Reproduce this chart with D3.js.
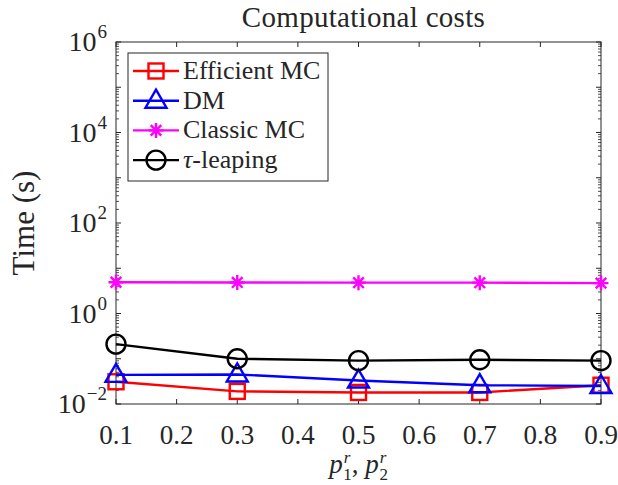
<!DOCTYPE html>
<html>
<head>
<meta charset="utf-8">
<script src="https://cdn.jsdelivr.net/npm/d3@7"></script>
<style>
body { margin: 0; background: #fff; }
text { font-family: "Liberation Serif", "DejaVu Serif", serif; fill: #262626; }
</style>
</head>
<body>
<svg width="618" height="485"></svg>
<script>
var svg = d3.select("svg");

// data
var pr = [0.1, 0.3, 0.5, 0.7, 0.9];
var efficientMC = [0.031, 0.019, 0.018, 0.018, 0.026];
var dm = [0.044, 0.045, 0.033, 0.026, 0.025];
var classicMC = [4.9, 4.85, 4.8, 4.8, 4.7];
var tauLeaping = [0.21, 0.1, 0.091, 0.095, 0.091];
var xTicks = [0.1, 0.2, 0.3, 0.4, 0.5, 0.6, 0.7, 0.8, 0.9];
var yLabelExps = [-2, 0, 2, 4, 6];

// note: "top" is taken by window.top, so use plot* names
var plotLeft = 116, plotRight = 601, plotTop = 42, plotBottom = 404;
var x = d3.scaleLinear().domain([0.1, 0.9]).range([plotLeft, plotRight]);
var y = d3.scaleLog().domain([1e-2, 1e6]).range([plotBottom, plotTop]);
var axisColor = "#262626";

//==================================================
// axes box and ticks
var g = svg.append("g");
g.append("rect")
    .attr("x", plotLeft).attr("y", plotTop)
    .attr("width", plotRight - plotLeft).attr("height", plotBottom - plotTop)
    .attr("fill", "none").attr("stroke", axisColor).attr("stroke-width", 1);

// x ticks inward, bottom and top
xTicks.forEach(function(t) {
    g.append("line").attr("x1", x(t)).attr("x2", x(t)).attr("y1", plotBottom).attr("y2", plotBottom - 5)
        .attr("stroke", axisColor);
    g.append("line").attr("x1", x(t)).attr("x2", x(t)).attr("y1", plotTop).attr("y2", plotTop + 5)
        .attr("stroke", axisColor);
    g.append("text").attr("x", x(t)).attr("y", plotBottom + 40)
        .attr("text-anchor", "middle").attr("font-size", 27)
        .text(t.toFixed(1));
});

// y ticks: majors every decade, minors between
for (var e = -2; e <= 6; e++) {
    [plotLeft, plotRight].forEach(function(px, side) {
        var dir = side == 0 ? 1 : -1;
        g.append("line").attr("x1", px).attr("x2", px + dir * 5)
            .attr("y1", y(Math.pow(10, e))).attr("y2", y(Math.pow(10, e)))
            .attr("stroke", axisColor);
        if (e < 6) {
            for (var m = 2; m <= 9; m++) {
                var v = m * Math.pow(10, e);
                g.append("line").attr("x1", px).attr("x2", px + dir * 3)
                    .attr("y1", y(v)).attr("y2", y(v))
                    .attr("stroke", axisColor).attr("stroke-width", 0.8);
            }
        }
    });
}
yLabelExps.forEach(function(e) {
    var t = g.append("text").attr("x", plotLeft - 9).attr("y", y(Math.pow(10, e)) + 9)
        .attr("text-anchor", "end").attr("font-size", 28);
    t.append("tspan").text("10");
    t.append("tspan").attr("dy", -13).attr("dx", 1).attr("font-size", 19).text(e < 0 ? "\u2212" + (-e) : e);
});

// title and labels
svg.append("text").attr("x", (plotLeft + plotRight) / 2 + 5).attr("y", 27)
    .attr("text-anchor", "middle").attr("font-size", 29).attr("letter-spacing", 0.3)
    .text("Computational costs");

svg.append("text").attr("transform", "translate(34," + ((plotTop + plotBottom) / 2) + ") rotate(-90)")
    .attr("text-anchor", "middle").attr("font-size", 31)
    .text("Time (s)");

var xl = svg.append("text").attr("x", (plotLeft + plotRight) / 2).attr("y", 473)
    .attr("text-anchor", "middle").attr("font-size", 27);
xl.append("tspan").attr("font-style", "italic").text("p");
xl.append("tspan").attr("font-style", "italic").attr("font-size", 17).attr("dy", -10).attr("dx", 1).text("r");
xl.append("tspan").attr("font-size", 17).attr("dy", 17).attr("dx", -7).text("1");
xl.append("tspan").attr("dy", -7).text(", ");
xl.append("tspan").attr("font-style", "italic").text("p");
xl.append("tspan").attr("font-style", "italic").attr("font-size", 17).attr("dy", -10).attr("dx", 1).text("r");
xl.append("tspan").attr("font-size", 17).attr("dy", 17).attr("dx", -7).text("2");

//==================================================
// series
var series = [
    { name: "Efficient MC", values: efficientMC, color: "#ff0000", marker: "square" },
    { name: "DM", values: dm, color: "#0000ff", marker: "triangle" },
    { name: "Classic MC", values: classicMC, color: "#ff00ff", marker: "star" },
    { name: "\u03c4-leaping", values: tauLeaping, color: "#000000", marker: "circle" }
];

function drawMarker(sel, type, color, cx, cy) {
    var s = 2.4;
    if (type == "square") {
        sel.append("rect").attr("x", cx - 7.5).attr("y", cy - 7.5).attr("width", 15).attr("height", 15)
            .attr("fill", "none").attr("stroke", color).attr("stroke-width", s);
    } else if (type == "triangle") {
        sel.append("path")
            .attr("d", "M" + cx + "," + (cy - 11) + "L" + (cx + 10.5) + "," + (cy + 7) + "L" + (cx - 10.5) + "," + (cy + 7) + "Z")
            .attr("fill", "none").attr("stroke", color).attr("stroke-width", s);
    } else if (type == "circle") {
        sel.append("circle").attr("cx", cx).attr("cy", cy).attr("r", 9.5)
            .attr("fill", "none").attr("stroke", color).attr("stroke-width", s);
    } else if (type == "star") {
        var r = 7.5;
        var d = "";
        [0, 45, 90, 135].forEach(function(a) {
            var rad = a * Math.PI / 180;
            d += "M" + (cx - r * Math.cos(rad)) + "," + (cy - r * Math.sin(rad)) +
                 "L" + (cx + r * Math.cos(rad)) + "," + (cy + r * Math.sin(rad));
        });
        sel.append("path").attr("d", d).attr("stroke", color).attr("stroke-width", s);
    }
}

var line = d3.line()
    .x(function(d, i) { return x(pr[i]); })
    .y(function(d) { return y(d); });

series.forEach(function(s) {
    var sg = svg.append("g");
    sg.append("path").datum(s.values).attr("d", line)
        .attr("fill", "none").attr("stroke", s.color).attr("stroke-width", 2.4);
    s.values.forEach(function(v, i) {
        drawMarker(sg, s.marker, s.color, x(pr[i]), y(v));
    });
});

//==================================================
// legend
var lg = svg.append("g");
lg.append("rect").attr("x", 128).attr("y", 53).attr("width", 200).attr("height", 128)
    .attr("fill", "#fff").attr("stroke", axisColor).attr("stroke-width", 1);
series.forEach(function(s, i) {
    var ly = 71 + i * 29.7;
    lg.append("line").attr("x1", 133).attr("x2", 179).attr("y1", ly).attr("y2", ly)
        .attr("stroke", s.color).attr("stroke-width", 2.4);
    drawMarker(lg, s.marker, s.color, 156, ly);
    var t = lg.append("text").attr("x", 183).attr("y", ly + 8).attr("font-size", 26);
    if (s.marker == "circle") {
        t.append("tspan").attr("font-style", "italic").text("\u03c4");
        t.append("tspan").text("-leaping");
    } else {
        t.text(s.name);
    }
});
</script>
</body>
</html>
